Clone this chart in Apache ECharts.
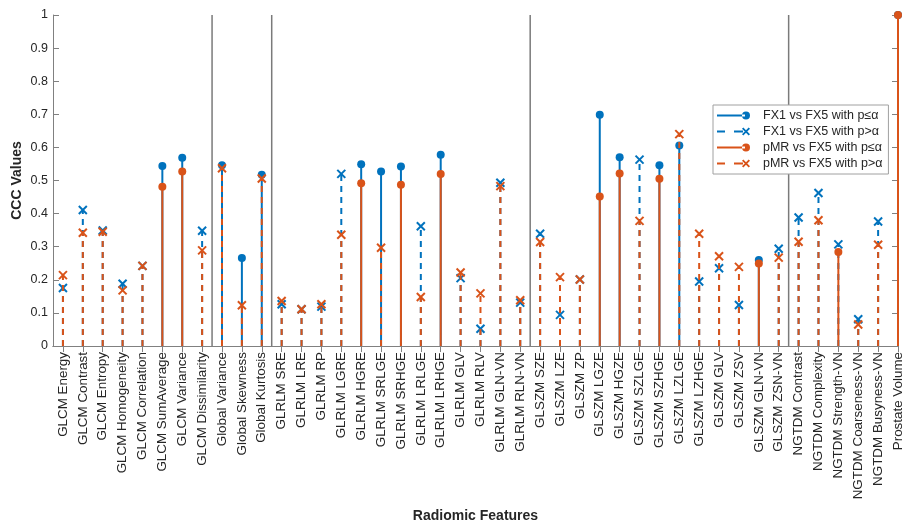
<!DOCTYPE html>
<html><head><meta charset="utf-8">
<script src="https://cdn.jsdelivr.net/npm/echarts@6/dist/echarts.min.js"></script>
<style>html,body{margin:0;padding:0;background:#fff}#c{width:902px;height:522px}</style>
</head><body><div id="c"></div>
<script>
const categories = ['GLCM Energy','GLCM Contrast','GLCM Entropy','GLCM Homogeneity','GLCM Correlation','GLCM SumAverage','GLCM Variance','GLCM Dissimilarity','Global Variance','Global Skewness','Global Kurtosis','GLRLM SRE','GLRLM LRE','GLRLM RP','GLRLM LGRE','GLRLM HGRE','GLRLM SRLGE','GLRLM SRHGE','GLRLM LRLGE','GLRLM LRHGE','GLRLM GLV','GLRLM RLV','GLRLM GLN-VN','GLRLM RLN-VN','GLSZM SZE','GLSZM LZE','GLSZM ZP','GLSZM LGZE','GLSZM HGZE','GLSZM SZLGE','GLSZM SZHGE','GLSZM LZLGE','GLSZM LZHGE','GLSZM GLV','GLSZM ZSV','GLSZM GLN-VN','GLSZM ZSN-VN','NGTDM Contrast','NGTDM Complexity','NGTDM Strength-VN','NGTDM Coarseness-VN','NGTDM Busyness-VN','Prostate Volume'];
const fx1Values = [0.175,0.411,0.349,0.188,0.242,0.544,0.569,0.348,0.546,0.266,0.517,0.126,0.111,0.119,0.520,0.549,0.527,0.542,0.362,0.578,0.205,0.052,0.493,0.131,0.339,0.094,0.201,0.699,0.570,0.563,0.546,0.606,0.195,0.235,0.124,0.260,0.294,0.388,0.462,0.307,0.081,0.376,1.0];
// 1 = p <= alpha (solid stem, circle), 0 = p > alpha (dashed stem, cross)
const fx1Significant = [0,0,0,0,0,1,1,0,1,1,1,0,0,0,0,1,1,1,0,1,0,0,0,0,0,0,0,1,1,0,1,1,0,0,0,1,0,0,0,0,0,0,1];
const pmrValues = [0.214,0.342,0.345,0.168,0.242,0.481,0.527,0.289,0.537,0.123,0.506,0.136,0.111,0.126,0.336,0.492,0.297,0.487,0.148,0.520,0.222,0.159,0.483,0.138,0.314,0.208,0.201,0.452,0.521,0.378,0.505,0.640,0.339,0.271,0.239,0.249,0.267,0.315,0.380,0.284,0.065,0.306,1.0];
const pmrSignificant = [0,0,0,0,0,1,1,0,0,0,0,0,0,0,0,1,0,1,0,1,0,0,0,0,0,0,0,1,1,0,1,0,0,0,0,1,0,0,0,1,0,0,1];
const groupSeparators = [8.5, 11.5, 24.5, 37.5];
const seriesNames = ['FX1 vs FX5 with p\u2264\u03b1','FX1 vs FX5 with p>\u03b1','pMR vs FX5 with p\u2264\u03b1','pMR vs FX5 with p>\u03b1'];

const BLUE = '#0072BD', ORANGE = '#D95319';
const positions = categories.map((c, i) => i + 1);

function pick(vals, sig, want) {
  const out = [];
  vals.forEach((v, i) => { if (sig[i] === want) out.push([i + 1, v]); });
  return out;
}

function stemRenderer(dashed) {
  return function (params, api) {
    const x = api.value(0), v = api.value(1);
    const p0 = api.coord([x, 0]), p1 = api.coord([x, v]);
    const color = api.visual('color');
    const children = [{
      type: 'line',
      shape: { x1: p0[0], y1: p0[1], x2: p1[0], y2: p1[1] },
      style: { stroke: color, lineWidth: 2, lineDash: dashed ? [6, 5] : null }
    }];
    if (dashed) {
      const s = 4;
      children.push({ type: 'line', shape: { x1: p1[0] - s, y1: p1[1] - s, x2: p1[0] + s, y2: p1[1] + s }, style: { stroke: color, lineWidth: 2 } });
      children.push({ type: 'line', shape: { x1: p1[0] - s, y1: p1[1] + s, x2: p1[0] + s, y2: p1[1] - s }, style: { stroke: color, lineWidth: 2 } });
    } else {
      children.push({ type: 'circle', shape: { cx: p1[0], cy: p1[1], r: 4 }, style: { fill: color } });
    }
    return { type: 'group', children };
  };
}

const bbox = 'M0,0L0.01,0L0,0.01Z M33,10L32.99,10L33,9.99Z ';
const iconSolid = 'path://' + bbox + 'M0,4.1L28,4.1L28,5.9L0,5.9Z M25,5A4,4 0 1,0 33,5A4,4 0 1,0 25,5Z';
const iconDashed = 'path://' + bbox + 'M0,4.1L8,4.1L8,5.9L0,5.9Z M17,4.1L26,4.1L26,5.9L17,5.9Z ' +
  'M25,2.3L26.3,1L33,7.7L31.7,9Z M31.7,1L33,2.3L26.3,9L25,7.7Z';

const axisGray = '#808080';
const textDark = '#262626';

const chart = echarts.init(document.getElementById('c'), null, { renderer: 'canvas' });
chart.setOption({
  animation: false,
  backgroundColor: '#fff',
  grid: { left: 53, right: 4, top: 15, bottom: 176, containLabel: false, outerBoundsMode: 'none' },
  legend: {
    orient: 'vertical', left: 713, top: 105,
    data: [
      { name: seriesNames[0], icon: iconSolid },
      { name: seriesNames[1], icon: iconDashed },
      { name: seriesNames[2], icon: iconSolid },
      { name: seriesNames[3], icon: iconDashed }
    ],
    itemWidth: 33, itemHeight: 10, itemGap: 3,
    padding: [4, 6, 4, 4],
    borderColor: '#a0a0a0', borderWidth: 1, backgroundColor: '#fff',
    textStyle: { fontFamily: 'Liberation Sans, Arial, sans-serif', fontSize: 12.5, color: textDark, padding: [0, 0, 0, 8] },
    selectedMode: false
  },
  xAxis: [{
    type: 'value', min: 0.5, max: 43, position: 'bottom',
    name: 'Radiomic Features', nameLocation: 'middle', nameGap: 163, nameMoveOverlap: false,
    nameTextStyle: { fontFamily: 'Liberation Sans, Arial, sans-serif', fontSize: 14, fontWeight: 'bold', color: textDark },
    axisLine: { lineStyle: { color: axisGray, width: 1 } },
    axisTick: { inside: true, length: 6, customValues: positions, lineStyle: { color: axisGray } },
    axisLabel: {
      customValues: positions, rotate: 90, margin: 6,
      fontFamily: 'Liberation Sans, Arial, sans-serif', fontSize: 13.4, color: textDark,
      formatter: v => categories[Math.round(v) - 1] || ''
    },
    splitLine: { show: false }
  }, {
    type: 'value', min: 0.5, max: 43, position: 'top',
    axisLine: { lineStyle: { color: axisGray, width: 1 } },
    axisTick: { inside: true, length: 6, customValues: positions, lineStyle: { color: axisGray } },
    axisLabel: { show: false },
    splitLine: { show: false }
  }],
  yAxis: [{
    type: 'value', min: 0, max: 1, interval: 0.1, position: 'left',
    name: 'CCC Values', nameLocation: 'middle', nameGap: 29, nameMoveOverlap: false,
    nameTextStyle: { fontFamily: 'Liberation Sans, Arial, sans-serif', fontSize: 14, fontWeight: 'bold', color: textDark },
    axisLine: { show: true, lineStyle: { color: axisGray, width: 1 } },
    axisTick: { show: true, inside: true, length: 6, lineStyle: { color: axisGray } },
    axisLabel: { margin: 5, fontFamily: 'Liberation Sans, Arial, sans-serif', fontSize: 12.5, color: textDark,
      formatter: v => String(Math.round(v * 10) / 10) },
    splitLine: { show: false }
  }, {
    type: 'value', min: 0, max: 1, interval: 0.1, position: 'right',
    axisLine: { show: true, lineStyle: { color: axisGray, width: 1 } },
    axisTick: { show: true, inside: true, length: 6, lineStyle: { color: axisGray } },
    axisLabel: { show: false },
    splitLine: { show: false }
  }],
  series: [
    {
      type: 'custom', name: 'separators', silent: true, z: 1,
      data: groupSeparators.map(x => [x]),
      renderItem: function (params, api) {
        const x = api.value(0);
        const a = api.coord([x, 0]), b = api.coord([x, 1]);
        return { type: 'line', shape: { x1: a[0], y1: a[1], x2: b[0], y2: b[1] }, style: { stroke: '#7a7a7a', lineWidth: 1.5 } };
      }
    },
    { type: 'custom', name: seriesNames[0], itemStyle: { color: BLUE }, z: 2, data: pick(fx1Values, fx1Significant, 1), renderItem: stemRenderer(false) },
    { type: 'custom', name: seriesNames[1], itemStyle: { color: BLUE }, z: 3, data: pick(fx1Values, fx1Significant, 0), renderItem: stemRenderer(true) },
    { type: 'custom', name: seriesNames[2], itemStyle: { color: ORANGE }, z: 4, data: pick(pmrValues, pmrSignificant, 1), renderItem: stemRenderer(false) },
    { type: 'custom', name: seriesNames[3], itemStyle: { color: ORANGE }, z: 5, data: pick(pmrValues, pmrSignificant, 0), renderItem: stemRenderer(true) }
  ]
});
</script></body></html>
